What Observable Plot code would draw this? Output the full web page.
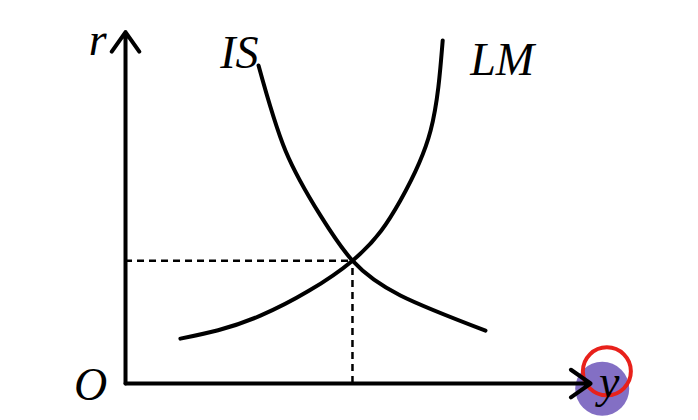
<!DOCTYPE html>
<html><head><meta charset="utf-8">
<script src="https://cdn.jsdelivr.net/npm/d3@7"></script>
<script src="https://cdn.jsdelivr.net/npm/@observablehq/plot@0.6"></script>
<style>body{margin:0;background:#fff}</style>
</head><body><div id="chart"></div>
<script>
// IS-LM diagram, output y vs interest rate r
const isY = [2.86, 3.44, 4.19, 4.88, 5.91, 7.74];
const isR = [9.14, 6.69, 4.83, 3.53, 2.53, 1.52];
const lmY = [1.18, 2.90, 4.88, 5.91, 6.56, 6.82];
const lmR = [1.29, 1.95, 3.53, 5.26, 7.27, 9.86];
const eq = {y: 4.88, r: 3.53};
const axisMax = {y: 10.0, r: 10.1};

const isData = isY.map((y, i) => ({y, r: isR[i]}));
const lmData = lmY.map((y, i) => ({y, r: lmR[i]}));
const font = "Liberation Serif";

const chart = Plot.plot({
  width: 698, height: 420,
  margin: 0,
  x: {domain: [-2.688, 12.32], axis: null},
  y: {domain: [-1.063, 11.006], axis: null},
  style: {background: "#fff"},
  marks: [
    // y annotation scribble
    Plot.dot([{y: 10.25, r: -0.15}], {x: "y", y: "r", r: 27, fill: "#5a3fb0", fillOpacity: 0.75}),
    Plot.dot([{y: 10.35, r: 0.35}], {x: "y", y: "r", r: 24, stroke: "#e8211b", strokeWidth: 4}),
    // axes
    Plot.arrow([{x1: 0, y1: 0, x2: axisMax.y, y2: 0}], {x1: "x1", y1: "y1", x2: "x2", y2: "y2", stroke: "black", strokeWidth: 4, headLength: 9, headAngle: 70}),
    Plot.arrow([{x1: 0, y1: 0, x2: 0, y2: axisMax.r}], {x1: "x1", y1: "y1", x2: "x2", y2: "y2", stroke: "black", strokeWidth: 4, headLength: 9, headAngle: 70}),
    // dashed guides
    Plot.ruleY([eq], {x1: 0, x2: eq.y, y: "r", stroke: "black", strokeWidth: 2.5, strokeDasharray: "7,5"}),
    Plot.ruleX([eq], {x: "y", y1: 0, y2: eq.r, stroke: "black", strokeWidth: 2.5, strokeDasharray: "7,5"}),
    // curves
    Plot.line(isData, {x: "y", y: "r", curve: "natural", stroke: "black", strokeWidth: 4}),
    Plot.line(lmData, {x: "y", y: "r", curve: "natural", stroke: "black", strokeWidth: 4}),
    // labels
    Plot.text([
      {y: 2.45, r: 9.5, t: "IS"},
      {y: 8.1, r: 9.3, t: "LM"},
      {y: -0.6, r: 9.85, t: "r"},
      {y: -0.75, r: -0.05, t: "O"},
      {y: 10.4, r: 0.05, t: "y"}
    ], {x: "y", y: "r", text: "t", fontFamily: font, fontStyle: "italic", fontSize: 46, fill: "black"})
  ]
});
document.getElementById("chart").append(chart);
</script>
</body></html>
